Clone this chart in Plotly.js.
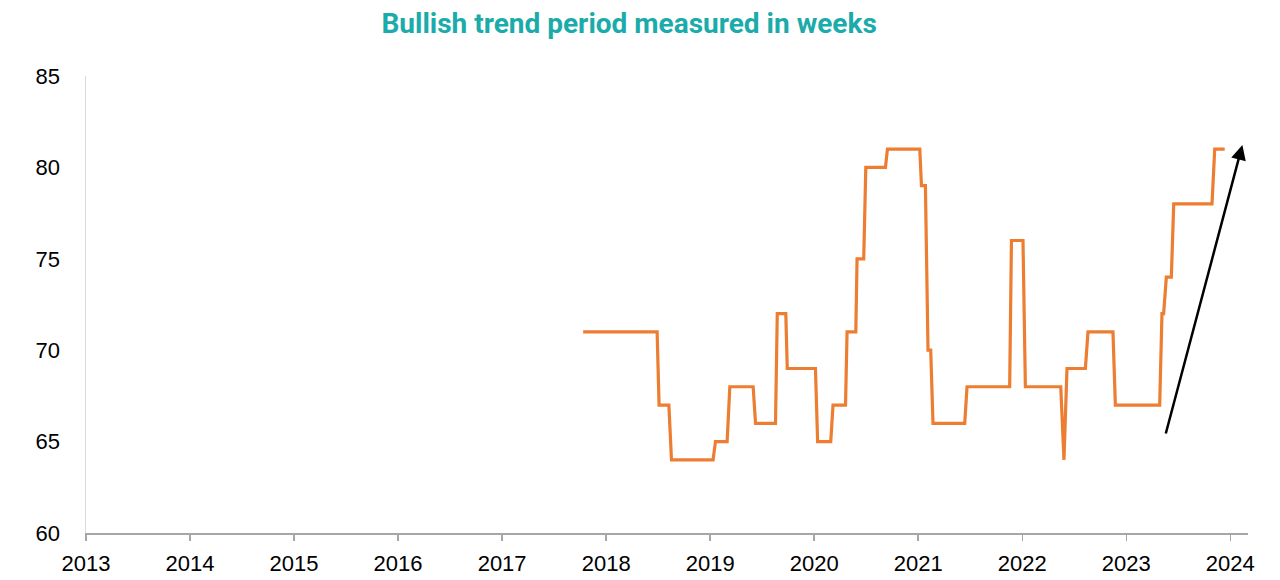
<!DOCTYPE html>
<html>
<head>
<meta charset="utf-8">
<script src="https://cdn.plot.ly/plotly-3.0.1.min.js"></script>
<style>
html,body{margin:0;padding:0;background:#fff;}
#chart{width:1280px;height:580px;}
</style>
</head>
<body>
<div id="chart"></div>
<script>
// Decimal-year positions of weekly observations where the bullish trend length changes
const weekTimes = [
  2017.779, 2018.490, 2018.509, 2018.603, 2018.628, 2019.028, 2019.051, 2019.163,
  2019.189, 2019.413, 2019.436, 2019.628, 2019.645, 2019.727, 2019.741, 2020.012,
  2020.033, 2020.159, 2020.181, 2020.301, 2020.316, 2020.400, 2020.412, 2020.476,
  2020.496, 2020.685, 2020.704, 2021.015, 2021.031, 2021.069, 2021.094, 2021.120,
  2021.142, 2021.447, 2021.469, 2021.879, 2021.896, 2022.007, 2022.030, 2022.370,
  2022.401, 2022.430, 2022.607, 2022.632, 2022.872, 2022.895, 2023.321, 2023.343,
  2023.359, 2023.385, 2023.433, 2023.456, 2023.824, 2023.850, 2023.946
];
// Bullish trend period measured in weeks
const trendWeeks = [
  71, 71, 67, 67, 64, 64, 65, 65,
  68, 68, 66, 66, 72, 72, 69, 69,
  65, 65, 67, 67, 71, 71, 75, 75,
  80, 80, 81, 81, 79, 79, 70, 70,
  66, 66, 68, 68, 76, 76, 68, 68,
  64, 69, 69, 71, 71, 67, 67, 72,
  72, 74, 74, 78, 78, 81, 81
];
const yearTicks = [2013, 2014, 2015, 2016, 2017, 2018, 2019, 2020, 2021, 2022, 2023, 2024];
const valueTicks = [60, 65, 70, 75, 80, 85];
// Trend arrow: start and end (year, weeks)
const arrowFrom = [2023.376, 65.36];
const arrowTo = [2024.116, 81.23];

const trace = {
  x: weekTimes,
  y: trendWeeks,
  type: 'scatter',
  mode: 'lines',
  line: {color: '#ED7D31', width: 3.2},
  hoverinfo: 'x+y'
};

const layout = {
  width: 1280,
  height: 580,
  margin: {l: 86, r: 32, t: 76, b: 47},
  paper_bgcolor: '#ffffff',
  plot_bgcolor: '#ffffff',
  showlegend: false,
  title: {
    text: '<b>Bullish trend period measured in weeks</b>',
    font: {family: 'Roboto, Arial, sans-serif', size: 28, color: '#1AABAA'},
    x: 0.4915, xanchor: 'center',
    y: 0.96, yanchor: 'middle'
  },
  xaxis: {
    range: [2013, 2024.17],
    tickvals: yearTicks,
    ticktext: yearTicks.map(String),
    showgrid: false,
    zeroline: false,
    showline: true,
    linecolor: '#A6A6A6',
    linewidth: 1.5,
    ticks: 'outside',
    ticklen: 6,
    tickwidth: 1.5,
    tickcolor: '#A6A6A6',
    ticklabelstandoff: 4,
    tickfont: {family: 'Liberation Sans, Arial, sans-serif', size: 22, color: '#000000'}
  },
  yaxis: {
    range: [60, 85],
    tickvals: valueTicks,
    showgrid: false,
    zeroline: false,
    showline: true,
    linecolor: '#D9D9D9',
    linewidth: 1.5,
    ticks: '',
    ticklabelstandoff: 20,
    tickfont: {family: 'Liberation Sans, Arial, sans-serif', size: 22, color: '#000000'}
  },
  annotations: [{
    x: arrowTo[0], y: arrowTo[1],
    ax: arrowFrom[0], ay: arrowFrom[1],
    xref: 'x', yref: 'y', axref: 'x', ayref: 'y',
    text: '',
    showarrow: true,
    arrowhead: 2,
    arrowsize: 1.2,
    arrowwidth: 2.5,
    arrowcolor: '#000000',
    standoff: 0
  }]
};

Plotly.newPlot('chart', [trace], layout, {displayModeBar: false, staticPlot: true});
</script>
</body>
</html>
